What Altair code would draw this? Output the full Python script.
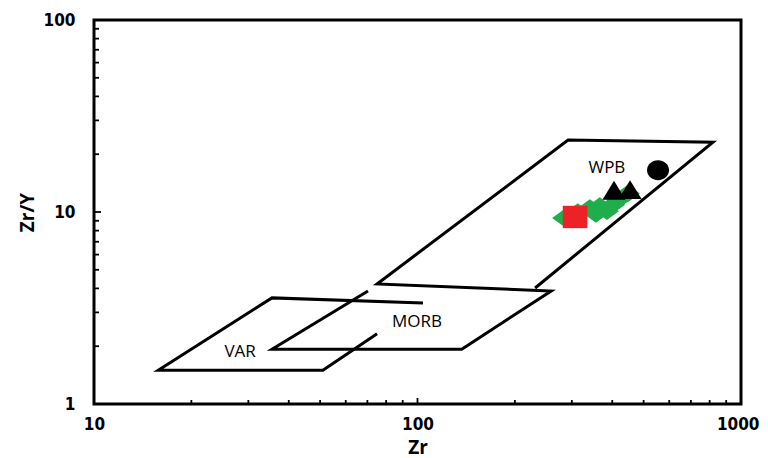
import altair as alt
import pandas as pd

# ---- field boundaries (Zr, Zr/Y) ----
morb_wpb_zr = [70.3, 35.5, 137, 259, 75, 292, 819, 231]
morb_wpb_zry = [3.88, 1.93, 1.93, 3.88, 4.22, 23.7, 23.1, 4.02]
var_zr = [104, 35.5, 15.8, 51, 75]
var_zry = [3.36, 3.57, 1.50, 1.50, 2.32]

# ---- field labels ----
label_text = ["WPB", "MORB", "VAR"]
label_zr = [385, 99.7, 28.3]
label_zry = [16.9, 2.67, 1.87]

# ---- samples ----
green_zr = [284, 313, 341, 366, 385, 402, 417, 356, 447]
green_zry = [9.30, 10.0, 10.5, 10.75, 10.1, 10.9, 11.55, 9.76, 12.5]
red_zr = [307]
red_zry = [9.42]
tri_zr = [405, 454]
tri_zry = [12.9, 13.0]
circ_zr = [554]
circ_zry = [16.5]

# ---- axis ticks ----
x_labels = [10, 100, 1000]
y_labels = [1, 10, 100]
x_minor = [20, 30, 40, 50, 60, 70, 80, 90, 200, 300, 400, 500, 600, 700, 800, 900]
x_major = [100]
y_minor = [2, 3, 4, 5, 6, 7, 8, 9, 20, 30, 40, 50, 60, 70, 80, 90]
y_major = [10]

W, H = 647, 384
xs = alt.Scale(type="log", domain=[10, 1000], nice=False)
ys = alt.Scale(type="log", domain=[1, 100], nice=False)
x_axis = alt.Axis(values=x_labels, format="d", title="Zr", ticks=False, tickSize=0,
                  domain=False, grid=False, labelPadding=12, titlePadding=6,
                  labelFlush=False,
                  labelAlign={"condition": {"test": "datum.value >= 1000", "value": "right"},
                              "value": "center"},
                  labelOffset={"condition": {"test": "datum.value >= 1000", "value": 18},
                               "value": 0})
y_axis = alt.Axis(values=y_labels, format="d", title="Zr/Y", ticks=False, tickSize=0,
                  domain=False, grid=False, labelPadding=19, titlePadding=6,
                  labelFlush=False)

def X():
    return alt.X("Zr:Q", scale=xs, axis=x_axis)

def Y():
    return alt.Y("ZrY:Q", scale=ys, axis=y_axis)

lines_df = pd.DataFrame({
    "Zr": morb_wpb_zr + var_zr,
    "ZrY": morb_wpb_zry + var_zry,
    "grp": ["a"] * len(morb_wpb_zr) + ["b"] * len(var_zr),
    "ord": list(range(len(morb_wpb_zr))) + list(range(len(var_zr))),
})

lines = alt.Chart(lines_df).mark_line(
    color="black", strokeWidth=3, strokeJoin="miter"
).encode(x=X(), y=Y(), detail="grp:N", order="ord:Q")

def pts(zr, zry, shape, color, size):
    df = pd.DataFrame({"Zr": zr, "ZrY": zry})
    return alt.Chart(df).mark_point(
        shape=shape, filled=True, color=color, size=size, opacity=1
    ).encode(x=X(), y=Y())

green = pts(green_zr, green_zry, "M-1.1,0L0,-0.8L1.1,0L0,0.8Z", "#1FAE4B", 480)
red = pts(red_zr, red_zry, "M-1.1,-1L1.1,-1L1.1,1L-1.1,1Z", "#EC2227", 500)
tri = pts(tri_zr, tri_zry, "M0,-0.95L1.1,0.85L-1.1,0.85Z", "black", 441)
circ = pts(circ_zr, circ_zry, "M-1,0A1,0.9 0 1,0 1,0A1,0.9 0 1,0 -1,0Z", "black", 484)

labels = alt.Chart(pd.DataFrame({"Zr": label_zr, "ZrY": label_zry, "t": label_text})).mark_text(
    font="Open Sans", fontSize=17, color="black"
).encode(x=X(), y=Y(), text="t:N")

def xticks(vals, length):
    return alt.Chart(pd.DataFrame({"Zr": vals})).mark_rule(color="black", strokeWidth=1.8).encode(
        x=X(), y=alt.value(H), y2=alt.value(H - length))

def yticks(vals, length):
    return alt.Chart(pd.DataFrame({"ZrY": vals})).mark_rule(color="black", strokeWidth=1.8).encode(
        y=Y(), x=alt.value(0), x2=alt.value(length))

chart = alt.layer(
    lines, green, red, tri, circ, labels,
    xticks(x_minor, 4), xticks(x_major, 6), yticks(y_minor, 5), yticks(y_major, 7),
).properties(
    width=W, height=H,
    autosize=alt.AutoSizeParams(type="none"),
    padding={"left": 86, "top": 12, "right": 19, "bottom": 54},
).configure_view(
    stroke="black", strokeWidth=3
).configure_axis(
    labelFont="DejaVu Sans Condensed", labelFontWeight="bold", labelFontSize=17, labelColor="black",
    titleFont="Open Sans", titleFontWeight="bold", titleFontSize=19, titleColor="black",
)

chart.save("out.html", embed_options={"renderer": "svg", "actions": False})
